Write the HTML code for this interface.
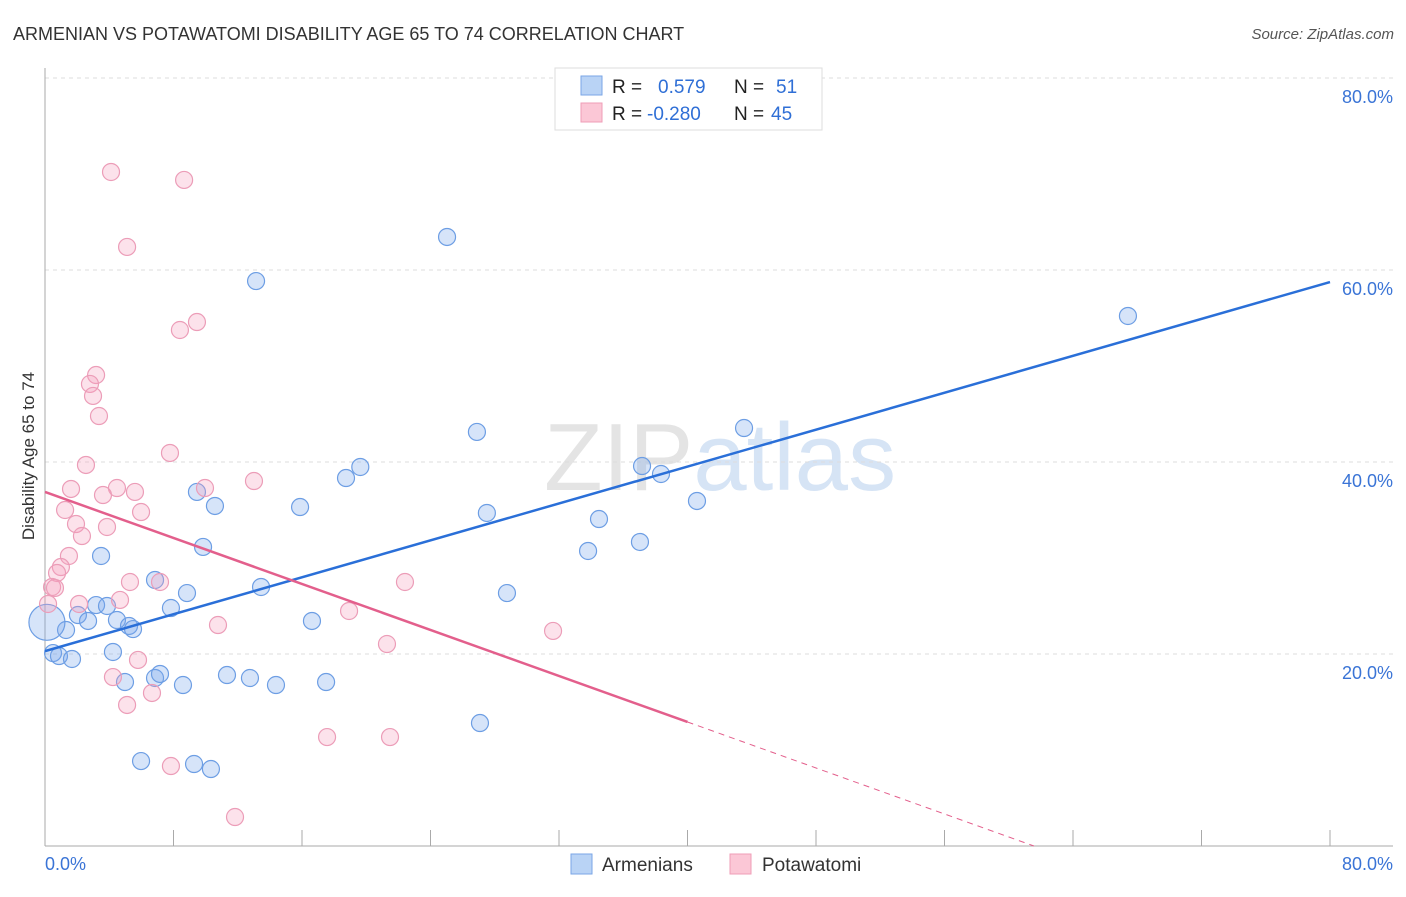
<!DOCTYPE html>
<html><head><meta charset="utf-8"><style>
body{margin:0;background:#fff;font-family:"Liberation Sans",sans-serif;}
svg text{font-family:"Liberation Sans",sans-serif;}
</style></head><body>
<svg id="chart" width="1406" height="892">
<text x="13" y="40" font-size="18" fill="#333">ARMENIAN VS POTAWATOMI DISABILITY AGE 65 TO 74 CORRELATION CHART</text>
<text x="1394" y="39" font-size="15" fill="#555" font-style="italic" text-anchor="end">Source: ZipAtlas.com</text>
<text x="720" y="490" font-size="96" fill="#e4e4e4" text-anchor="middle" font-family="Liberation Serif">ZIP<tspan fill="#d6e4f5" font-family="Liberation Sans">atlas</tspan></text>
<g id="grid"></g>
<g id="marks"></g>
<text x="34" y="456" font-size="17" fill="#333" text-anchor="middle" transform="rotate(-90 34 456)">Disability Age 65 to 74</text>
<g>
<rect x="555" y="68" width="267" height="62" fill="#fff" stroke="#ddd"/>
<rect x="581" y="76" width="21" height="19" fill="#b9d3f5" stroke="#7aa6e6"/>
<rect x="581" y="103" width="21" height="19" fill="#fbc7d6" stroke="#ef9db7"/>
<text x="612" y="93" font-size="19" fill="#222">R = <tspan x="658" fill="#2f6fd6">0.579</tspan><tspan x="734" fill="#222">N = </tspan><tspan x="776" fill="#2f6fd6">51</tspan></text>
<text x="612" y="120" font-size="19" fill="#222">R = <tspan x="647" fill="#2f6fd6">-0.280</tspan><tspan x="734" fill="#222">N = </tspan><tspan x="771" fill="#2f6fd6">45</tspan></text>
</g>
<g>
<rect x="571" y="854" width="21" height="20" fill="#b9d3f5" stroke="#7aa6e6"/>
<text x="602" y="871" font-size="19" fill="#333">Armenians</text>
<rect x="730" y="854" width="21" height="20" fill="#fbc7d6" stroke="#ef9db7"/>
<text x="762" y="871" font-size="19" fill="#333">Potawatomi</text>
</g>
</svg>
<script>
const yTicks=[20,40,60,80];
const xTickLabels=["0.0%","80.0%"];
const armX=[13.14,25.03,67.42,43.52,26.89,37.17,38.35,18.74,19.63,9.46,10.58,15.88,27.51,40.59,34.49,37.04,33.81,9.84,3.49,6.85,13.45,8.84,28.76,3.18,3.86,7.84,2.05,2.68,4.48,16.62,5.23,5.48,1.31,0.5,0.87,1.68,4.23,4.98,6.85,7.16,8.59,11.33,12.76,14.38,17.5,27.08,5.98,9.28,10.33,0.12];
const armY=[58.85,63.44,55.21,43.54,43.13,39.58,38.75,38.33,39.48,36.88,35.42,35.31,34.69,35.94,34.06,31.67,30.73,31.15,30.21,27.71,26.98,26.35,26.35,25.10,25.0,24.79,24.06,23.44,23.54,23.44,22.92,22.6,22.5,20.1,19.79,19.48,20.21,17.08,17.5,17.92,16.77,17.81,17.5,16.77,17.08,12.81,8.85,8.54,8.02,23.3];
const potX=[4.11,8.66,5.11,9.46,8.40,3.18,2.80,2.99,3.36,7.78,2.55,13.01,9.96,4.48,1.62,3.61,5.60,5.98,1.25,1.93,3.86,2.30,1.49,0.99,0.75,0.44,0.62,5.29,7.16,22.41,0.19,2.12,4.67,18.93,10.77,31.63,21.29,5.79,4.23,6.66,5.11,17.56,21.48,7.84,11.83];
const potY=[70.21,69.38,62.40,54.58,53.75,49.06,48.13,46.88,44.79,40.94,39.69,38.02,37.29,37.29,37.19,36.56,36.88,34.79,35.0,33.54,33.23,32.29,30.21,29.06,28.44,26.98,26.88,27.5,27.5,27.5,25.21,25.21,25.63,24.48,23.02,22.40,21.04,19.38,17.60,15.94,14.69,11.35,11.35,8.33,3.02];
const armTrend=[20.3,0.4806];
const potTrend=[36.88,-0.599];
const NS="http://www.w3.org/2000/svg";
const X=v=>45+v/80*1285, Y=v=>846-v/80*768;
function mk(t,a,p){const e=document.createElementNS(NS,t);for(const k in a)e.setAttribute(k,a[k]);p.appendChild(e);return e;}
const grid=document.getElementById('grid'),marks=document.getElementById('marks');
yTicks.forEach(t=>{
 const l=mk('line',{x1:45,x2:1393,y1:Y(t),y2:Y(t),stroke:'#ddd','stroke-dasharray':'4,4'},grid);
 
 
 const tx=mk('text',{x:1393,y:Y(t)+25,'font-size':18,fill:'#3a74d6','text-anchor':'end'},grid);
 tx.textContent=t.toFixed(1)+'%';
 
 
});
const ax=mk('line',{x1:45,x2:45,y1:68,y2:846,stroke:'#aaa'},grid);


const bx=mk('line',{x1:45,x2:1393,y1:846,y2:846,stroke:'#aaa'},grid);


for(let i=0;i<=10;i++){const t=mk('line',{x1:X(i*8),x2:X(i*8),y1:830,y2:846,stroke:'#aaa'},grid);
 
 }
const xl0=mk('text',{x:45,y:870,'font-size':18,fill:'#3a74d6'},grid);xl0.textContent=xTickLabels[0];


const xl1=mk('text',{x:1393,y:870,'font-size':18,fill:'#3a74d6','text-anchor':'end'},grid);xl1.textContent=xTickLabels[1];


armX.forEach((x,i)=>{const c=mk('circle',{cx:X(x),cy:Y(armY[i]),r:i==armX.length-1?18:8.5,fill:'rgba(120,165,235,0.3)',stroke:'#6d9ee4','stroke-width':1.2},marks);
 
 });
potX.forEach((x,i)=>{const c=mk('circle',{cx:X(x),cy:Y(potY[i]),r:8.5,fill:'rgba(245,160,190,0.3)',stroke:'#ec9db8','stroke-width':1.2},marks);
 
 });
const bl=mk('line',{x1:X(0),y1:Y(armTrend[0]),x2:X(80),y2:Y(armTrend[0]+80*armTrend[1]),stroke:'#2a6fd8','stroke-width':2.5},marks);


const pl=mk('line',{x1:X(0),y1:Y(potTrend[0]),x2:X(40),y2:Y(potTrend[0]+40*potTrend[1]),stroke:'#e35f8c','stroke-width':2.5},marks);


const xe=-potTrend[0]/potTrend[1];
const pd=mk('line',{x1:X(40),y1:Y(potTrend[0]+40*potTrend[1]),x2:X(xe),y2:Y(0),stroke:'#e35f8c','stroke-width':1,'stroke-dasharray':'6,5'},marks);


</script>
</body></html>
